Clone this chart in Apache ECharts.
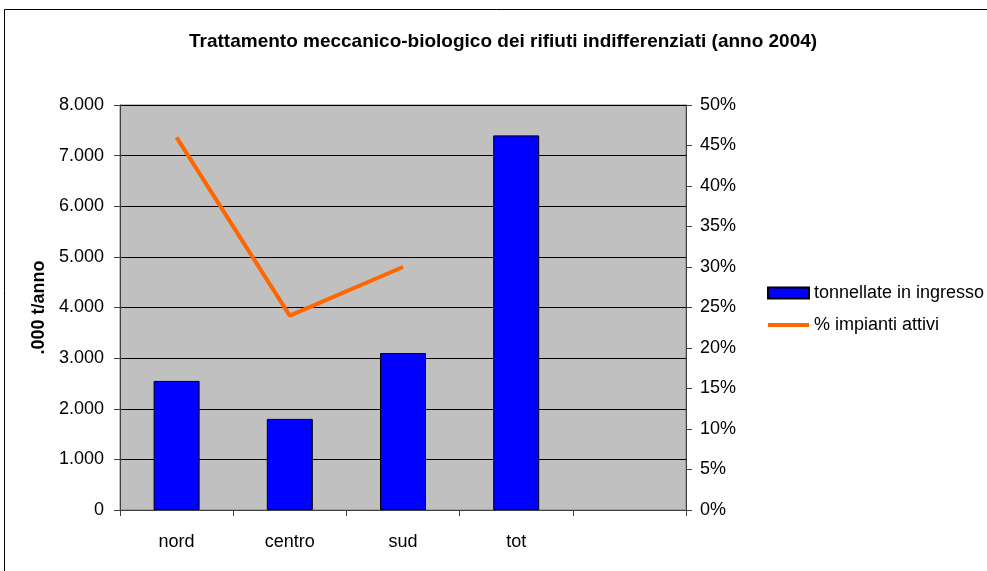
<!DOCTYPE html>
<html>
<head>
<meta charset="utf-8">
<script src="https://cdn.jsdelivr.net/npm/echarts@6/dist/echarts.min.js"></script>
<style>
  html, body { margin: 0; padding: 0; background: #fff; }
  #chart { width: 987px; height: 571px; }
</style>
</head>
<body>
<div id="chart"></div>
<script>
// dati
var categorie = ['nord', 'centro', 'sud', 'tot', ''];
var tonnellate = [2550, 1800, 3100, 7400, null];
var impiantiAttivi = [46, 24, 30, null, null];

var FONT = "'Liberation Sans', Arial, sans-serif";

var chart = echarts.init(document.getElementById('chart'));

function migliaia(v) {
    return String(v).replace(/\B(?=(\d{3})+(?!\d))/g, '.');
}

var option = {
    backgroundColor: '#fff',
    textStyle: { fontFamily: FONT, color: '#000' },
    animation: false,
    title: {
        text: 'Trattamento meccanico-biologico dei rifiuti indifferenziati (anno 2004)',
        left: 184,
        top: 27,
        textStyle: { fontFamily: FONT, fontSize: 19, fontWeight: 'bold', color: '#000' }
    },
    graphic: [{
        type: 'rect',
        shape: { x: 4.5, y: 9.5, width: 1000, height: 600 },
        style: { fill: 'none', stroke: '#000', lineWidth: 1 },
        silent: true
    }],
    legend: {
        orient: 'vertical',
        left: 762,
        top: 279,
        itemWidth: 41,
        itemHeight: 11,
        itemGap: 14,
        textStyle: { fontFamily: FONT, fontSize: 18, color: '#000' },
        data: [
            { name: 'tonnellate in ingresso', icon: 'rect' },
            { name: '% impianti attivi', icon: 'path://M0,0H40V4H0Z' }
        ]
    },
    grid: {
        left: 120,
        right: 301,
        top: 105,
        bottom: 61,
        show: true,
        backgroundColor: '#c0c0c0',
        borderColor: '#808080',
        borderWidth: 1
    },
    xAxis: {
        type: 'category',
        data: categorie,
        boundaryGap: true,
        axisLine: { lineStyle: { color: '#404040', width: 1 } },
        axisTick: { show: true, length: 6, lineStyle: { color: '#404040' } },
        axisLabel: { fontFamily: FONT, fontSize: 18, color: '#000', margin: 23 },
        splitLine: { show: false }
    },
    yAxis: [{
        type: 'value',
        min: 0,
        max: 8000,
        interval: 1000,
        name: '.000 t/anno',
        nameLocation: 'middle',
        nameGap: 67,
        nameTextStyle: { fontFamily: FONT, fontSize: 18, fontWeight: 'bold', color: '#000' },
        axisLine: { show: true, lineStyle: { color: '#404040' } },
        axisTick: { show: true, length: 6, lineStyle: { color: '#404040' } },
        axisLabel: { fontFamily: FONT, fontSize: 18, color: '#000', margin: 16, formatter: migliaia },
        splitLine: { show: true, lineStyle: { color: '#000', width: 1 } }
    }, {
        type: 'value',
        min: 0,
        max: 50,
        interval: 5,
        position: 'right',
        axisLine: { show: true, lineStyle: { color: '#404040' } },
        axisTick: { show: true, length: 6, lineStyle: { color: '#404040' } },
        axisLabel: { fontFamily: FONT, fontSize: 18, color: '#000', margin: 14, formatter: '{value}%' },
        splitLine: { show: false }
    }],
    series: [{
        name: 'tonnellate in ingresso',
        type: 'bar',
        yAxisIndex: 0,
        barWidth: 46,
        data: tonnellate,
        itemStyle: { color: '#0000ff', borderColor: '#000', borderWidth: 1 }
    }, {
        name: '% impianti attivi',
        type: 'line',
        yAxisIndex: 1,
        data: impiantiAttivi,
        symbol: 'none',
        showSymbol: false,
        lineStyle: { color: '#ff6600', width: 4 },
        itemStyle: { color: '#ff6600' }
    }]
};

chart.setOption(option);
</script>
</body>
</html>
